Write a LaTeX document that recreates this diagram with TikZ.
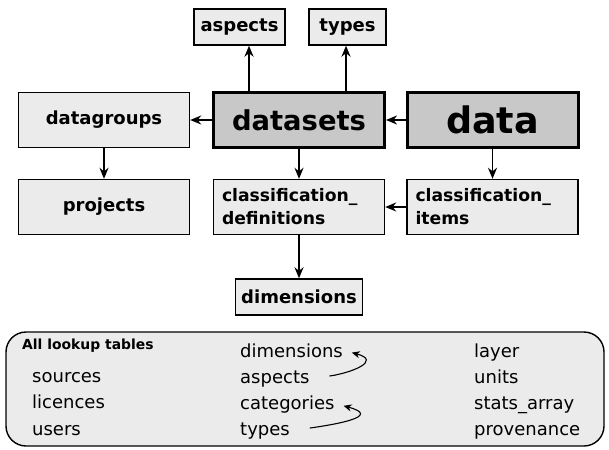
\documentclass[tikz,border=0pt]{standalone}
\usepackage{fontspec}
\setmainfont{DejaVu Sans}
\usetikzlibrary{arrows.meta}
\definecolor{tblL}{RGB}{235,235,235}
\definecolor{tblD}{RGB}{200,200,200}
\begin{document}
\begin{tikzpicture}[x=1pt,y=-1pt,tbl/.style={draw=black,line width=1.4pt,fill=tblL,inner sep=0pt,minimum width=171pt,minimum height=55pt,font=\bfseries\fontsize{18}{22}\selectfont},tblM/.style={tbl,fill=tblD,line width=3pt},tblS/.style={tbl,minimum height=36pt},tblC/.style={tbl,align=left,text width=154pt,inner xsep=8pt,font=\bfseries\fontsize{17.2}{23}\selectfont},link/.style={-{Stealth[length=11pt,width=9pt,inset=3.5pt]},line width=1.6pt},lkp/.style={anchor=base west,inner sep=2pt,font=\fontsize{18}{22}\selectfont},swing/.style={-{Stealth[length=8pt,width=7pt,inset=2.5pt]},line width=1.1pt,shorten <=18pt,shorten >=7pt}]
\def\xa{104};
\def\xb{299};
\def\xc{492.5};
\def\ya{27};
\def\yb{120};
\def\yc{207};
\def\yd{297};

\useasboundingbox (0,0) rectangle (609,449);

\node[tblM] (DS) at (\xb,\yb) {\fontsize{27.4}{30}\selectfont datasets};
\node[tblM] (DA) at (\xc,\yb) {\fontsize{36.5}{40}\selectfont data};
\draw[link] (DA.west) -- (DS.east);
\node[tbl] (DG) at (\xa,\yb) {datagroups};
\draw[link] (DS.west) -- (DG.east);

\node[tblS,minimum width=91pt] (AS) at (239.5,\ya) {aspects};
\draw[link] ([xshift=-50pt]DS.north) -- ([xshift=-50pt]DS.north |- AS.south);
\node[tblS,minimum width=77pt] (TY) at (347.5,\ya) {types};
\draw[link] ([xshift=-1.5pt]DS.north -| TY.south) -- ([xshift=-1.5pt]TY.south);

\node[tbl] (PR) at (\xa,\yc) {projects};
\draw[link] (DG.south) -- (PR.north);
\node[tblC] (CD) at (\xb,\yc) {classification\_\\definitions};
\draw[link] (DS.south) -- (CD.north);
\node[tblC] (CI) at (\xc,\yc) {classification\_\\items};
\draw[link] (DA.south) -- (CI.north);
\draw[link] (CI.west) -- (CD.east);

\node[tblS,minimum width=127pt] (DM) at (\xb,\yd) {dimensions};
\draw[link] (CD.south) -- (DM.north);

\node[draw,line width=1.4pt,rounded corners=20pt,fill=tblL,minimum width=598pt,minimum height=114pt,inner sep=0pt] (LK) at (305,389) {};
\node[lkp,font=\bfseries\fontsize{13.9}{16}\selectfont] (LT) at (20,349) {All lookup tables};

\node[lkp] (L1) at (30,382) {sources};
\node[lkp] (L2) at (30,408) {licences};
\node[lkp] (L3) at (30,435) {users};

\node[lkp] (M1) at (238,357.5) {dimensions};
\node[lkp] (M2) at (238,383) {aspects};
\node[lkp] (M3) at (238,409) {categories};
\node[lkp] (M4) at (238,435) {types};
\draw[swing] (M2.east) to[out=8,in=-15,looseness=2.3] (M1.east);
\draw[swing] (M4.east) to[out=8,in=-15,looseness=2.3] (M3.east);

\node[lkp] (R1) at (472,357.5) {layer};
\node[lkp] (R2) at (472,383) {units};
\node[lkp] (R3) at (472,409) {stats\_array};
\node[lkp] (R4) at (472,435) {provenance};
\end{tikzpicture}
\end{document}
